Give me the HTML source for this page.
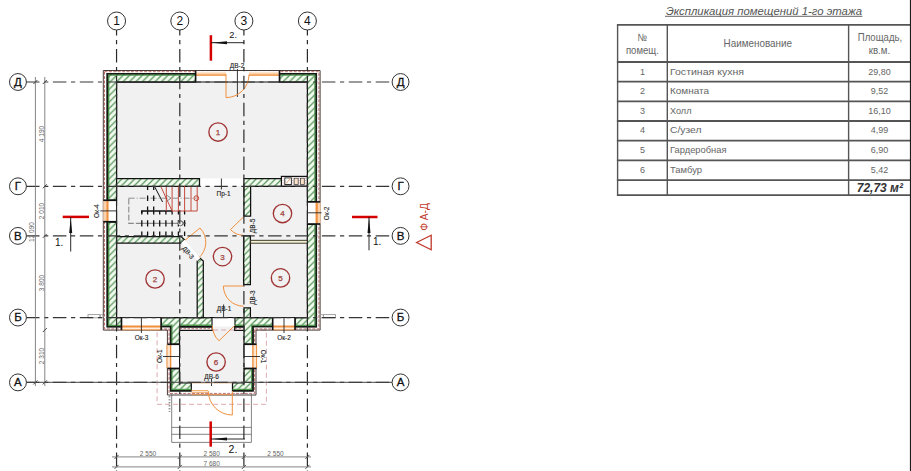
<!DOCTYPE html><html><head><meta charset="utf-8"><style>html,body{margin:0;padding:0;background:#fff;width:911px;height:471px;overflow:hidden}svg{display:block}text{font-family:"Liberation Sans",sans-serif}</style></head><body>
<svg width="911" height="471" viewBox="0 0 911 471">
<defs><pattern id="h" patternUnits="userSpaceOnUse" width="6.4" height="6.4"><rect width="6.4" height="6.4" fill="#f1fbee"/><path d="M-1.6,1.6 L1.6,-1.6 M0,6.4 L6.4,0 M4.8,8 L8,4.8" stroke="#56925a" stroke-width="1.25"/></pattern><marker id="ar" viewBox="0 0 10 4" refX="0" refY="2" markerWidth="10" markerHeight="4" orient="auto"><path d="M0,2 L10,0.4 L10,3.6Z" fill="#111"/></marker></defs>
<rect width="911" height="471" fill="#fff"/>
<rect x="116.6" y="82" width="190.8" height="235.6" fill="#f1f1f1"/>
<rect x="179.5" y="326.5" width="64.3" height="57" fill="#f1f1f1"/>
<rect x="157.1" y="330" width="109.3" height="74.3" fill="none" stroke="#d9a0a8" stroke-width="0.9" stroke-dasharray="5 3"/>
<g stroke="#777" stroke-width="0.9" fill="none"><path d="M171.7,394.6 V442.4 H251.4 V394.6 M171.7,427.4 H251.4 M171.7,434.3 H251.4"/></g>
<line x1="169.5" y1="396" x2="169.5" y2="412" stroke="#999" stroke-width="1.8" stroke-dasharray="1.5 1.5"/>
<polygon points="104.5,71.7 318.9,71.7 318.9,328.9 254.6,328.9 254.6,393.4 169,393.4 169,328.9 104.5,328.9" fill="none" stroke="#c07070" stroke-width="1" stroke-dasharray="3 1.4"/>
<polygon points="103.3,70.5 320.1,70.5 320.1,330.1 256,330.1 256,395 167.4,395 167.4,330.1 103.3,330.1" fill="none" stroke="#4a3a36" stroke-width="1"/>
<g fill="none" stroke="#9a9a9a" stroke-width="0.9"><rect x="88" y="314.6" width="12" height="3.2"/><circle cx="101.6" cy="316.2" r="1.7"/><rect x="323.5" y="314.6" width="12" height="3.2"/><circle cx="321.9" cy="316.2" r="1.7"/></g>
<rect x="199.5" y="178.5" width="44.4" height="7.6" fill="#fff"/>
<polygon points="107.3,73.7 195.6,73.7 195.6,82 116.6,82 116.6,200 107.3,200" fill="url(#h)" stroke="#111" stroke-width="1.25" stroke-linejoin="miter"/>
<polygon points="279.5,73.7 316.3,73.7 316.3,201.6 307.4,201.6 307.4,82 279.5,82" fill="url(#h)" stroke="#111" stroke-width="1.25" stroke-linejoin="miter"/>
<polygon points="107.3,222 116.6,222 116.6,317.6 121.5,317.6 121.5,326.7 107.3,326.7" fill="url(#h)" stroke="#111" stroke-width="1.25" stroke-linejoin="miter"/>
<polygon points="307.4,224.3 316.3,224.3 316.3,326.7 295,326.7 295,317.6 307.4,317.6" fill="url(#h)" stroke="#111" stroke-width="1.25" stroke-linejoin="miter"/>
<polygon points="161.1,317.6 212.3,317.6 212.3,326.5 179.5,326.5 179.5,344 170.6,344 170.6,326.5 161.1,326.5" fill="url(#h)" stroke="#111" stroke-width="1.25" stroke-linejoin="miter"/>
<polygon points="234.7,317.6 244,317.6 244,307.8 250.4,307.8 250.4,317.6 272.7,317.6 272.7,326.5 253,326.5 253,344 244,344 244,326.5 234.7,326.5" fill="url(#h)" stroke="#111" stroke-width="1.25" stroke-linejoin="miter"/>
<polygon points="170.6,368.7 179.5,368.7 179.5,382.8 191.3,382.8 191.3,390.8 170.6,390.8" fill="url(#h)" stroke="#111" stroke-width="1.25" stroke-linejoin="miter"/>
<polygon points="244,368.7 253,368.7 253,390.8 232.5,390.8 232.5,382.8 244,382.8" fill="url(#h)" stroke="#111" stroke-width="1.25" stroke-linejoin="miter"/>
<polygon points="116.6,178.6 199.5,178.6 199.5,186.3 116.6,186.3" fill="url(#h)" stroke="#111" stroke-width="1.25" stroke-linejoin="miter"/>
<polygon points="243.9,178.6 307.4,178.6 307.4,186.3 250.6,186.3 250.6,216.2 243.9,216.2" fill="url(#h)" stroke="#111" stroke-width="1.25" stroke-linejoin="miter"/>
<polygon points="243.6,235.8 250.4,235.8 250.4,284.5 243.6,284.5" fill="url(#h)" stroke="#111" stroke-width="1.25" stroke-linejoin="miter"/>
<polygon points="116.6,236.6 181,236.6 184.5,239.8 181,243 116.6,243" fill="url(#h)" stroke="#111" stroke-width="1.25" stroke-linejoin="miter"/>
<polygon points="197.2,261 200.2,258.3 203.3,261 203.3,317.6 197.2,317.6" fill="url(#h)" stroke="#111" stroke-width="1.25" stroke-linejoin="miter"/>
<rect x="179.5" y="326.5" width="32.8" height="4.2" fill="#fff"/><rect x="234.7" y="326.5" width="9.3" height="4.2" fill="#fff"/>
<g fill="none"><path d="M179.5,325.2 H212.3 M234.7,325.2 H244" stroke="#4c944c" stroke-width="1.5"/><path d="M179.5,330.3 H212.3 M234.7,330.3 H244" stroke="#111" stroke-width="1.2"/><path d="M179.5,328.6 H212.3 M234.7,328.6 H244" stroke="#d08080" stroke-width="1" stroke-dasharray="2.5 1.5"/><path d="M179.5,326.8 H212.3 M234.7,326.8 H244" stroke="#111" stroke-width="1.7"/><path d="M212.3,317.6 V330.9 M234.7,317.6 V330.9" stroke="#111" stroke-width="1.2"/></g>
<g stroke="#4f9a4f" stroke-width="1.3" fill="none"><path d="M108.7,200 V75.1 H195.6"/><path d="M279.5,75.1 H314.9 V201.6"/><path d="M108.7,222 V325.3 H121.5"/><path d="M314.9,224.3 V325.3 H295"/><path d="M161.1,325.1 H171.9 V344"/><path d="M272.7,325.1 H251.7 V344"/><path d="M171.9,368.7 V389.4 H191.3"/><path d="M251.7,368.7 V389.4 H232.5"/></g>
<g stroke="#141c14" stroke-width="1.6" fill="none"><path d="M107.3,200 V73.7 H195.6"/><path d="M279.5,73.7 H316.3 V201.6"/><path d="M107.3,222 V326.7 H121.5"/><path d="M316.3,224.3 V326.7 H295"/><path d="M161.1,326.5 H170.6 V344"/><path d="M272.7,326.5 H253 V344"/><path d="M170.6,368.7 V390.8 H191.3"/><path d="M253,368.7 V390.8 H232.5"/></g>
<rect x="250.6" y="240.3" width="56.8" height="2.9" fill="#f5f0d2" stroke="#2a2a1a" stroke-width="0.9"/>
<rect x="281.4" y="176.4" width="25.9" height="9.7" fill="#fff" stroke="#111" stroke-width="1.2"/>
<g stroke="#e2a0a0" stroke-width="0.9" stroke-dasharray="1.2 1.2"><line x1="283" y1="177.5" x2="283" y2="185.5"/><line x1="292.8" y1="177.5" x2="292.8" y2="185.5"/><line x1="299.3" y1="177.5" x2="299.3" y2="185.5"/><line x1="305.6" y1="177.5" x2="305.6" y2="185.5"/></g>
<rect x="284.8" y="177.9" width="6.6" height="6.6" fill="#fff" stroke="#333" stroke-width="1"/><line x1="286" y1="183.5" x2="290" y2="179" stroke="#f0a060" stroke-width="1"/>
<rect x="294.1" y="178.2" width="4.1" height="6.2" fill="#fbe2c8" stroke="#444" stroke-width="0.8"/><rect x="300.5" y="178.2" width="3.8" height="6.2" fill="#fbe2c8" stroke="#444" stroke-width="0.8"/>
<rect x="195.6" y="71.1" width="30.400000000000006" height="10.3" fill="#fff"/>
<rect x="195.6" y="72.4" width="30.400000000000006" height="3.4" fill="#fbd2ab"/>
<line x1="195.6" y1="75.1" x2="226" y2="75.1" stroke="#f0903c" stroke-width="1.2"/>
<rect x="249" y="71.1" width="30.5" height="10.3" fill="#fff"/>
<rect x="249" y="72.4" width="30.5" height="3.4" fill="#fbd2ab"/>
<line x1="249" y1="75.1" x2="279.5" y2="75.1" stroke="#f0903c" stroke-width="1.2"/>
<rect x="226" y="71" width="23" height="10.5" fill="#fff"/>
<rect x="121.5" y="318.20000000000005" width="39.599999999999994" height="11.3" fill="#fff"/>
<rect x="121.5" y="326" width="39.599999999999994" height="3.8" fill="#fdefe2"/>
<line x1="121.5" y1="326.5" x2="161.1" y2="326.5" stroke="#f0903c" stroke-width="1.9"/>
<line x1="121.5" y1="329.8" x2="161.1" y2="329.8" stroke="#f0903c" stroke-width="0.9"/>
<rect x="272.7" y="318.20000000000005" width="22.30000000000001" height="11.3" fill="#fff"/>
<rect x="272.7" y="326" width="22.30000000000001" height="3.8" fill="#fdefe2"/>
<line x1="272.7" y1="326.5" x2="295" y2="326.5" stroke="#f0903c" stroke-width="1.9"/>
<line x1="272.7" y1="329.8" x2="295" y2="329.8" stroke="#f0903c" stroke-width="0.9"/>
<rect x="103.8" y="200.6" width="12.3" height="20.80000000000001" fill="#fff"/>
<rect x="103.3" y="200.6" width="5.5" height="20.80000000000001" fill="#fbd2ab"/>
<line x1="107.4" y1="200.6" x2="107.4" y2="221.4" stroke="#f0903c" stroke-width="1.8"/>
<rect x="307.9" y="202.3" width="11.7" height="21.399999999999977" fill="#fff"/>
<rect x="315.1" y="202.3" width="5.5" height="21.399999999999977" fill="#fbd2ab"/>
<line x1="316.8" y1="202.3" x2="316.8" y2="223.7" stroke="#f0903c" stroke-width="1.8"/>
<rect x="167" y="344.5" width="12.3" height="23.7" fill="#fff"/>
<rect x="244.3" y="344.5" width="12.3" height="23.7" fill="#fff"/>
<rect x="167.3" y="344.5" width="3.2" height="23.7" fill="#fde6d0"/><line x1="170.6" y1="344.5" x2="170.6" y2="368.2" stroke="#f0903c" stroke-width="1.4"/><line x1="167" y1="344.5" x2="167" y2="368.2" stroke="#f0903c" stroke-width="1"/>
<rect x="253.2" y="344.5" width="3.2" height="23.7" fill="#fde6d0"/><line x1="252.9" y1="344.5" x2="252.9" y2="368.2" stroke="#f0903c" stroke-width="1.4"/><line x1="256.6" y1="344.5" x2="256.6" y2="368.2" stroke="#f0903c" stroke-width="1"/>
<g stroke="#111" stroke-width="1.6"><line x1="167.4" y1="344.3" x2="179.5" y2="344.3"/><line x1="167.4" y1="368.4" x2="179.5" y2="368.4"/><line x1="244" y1="344.3" x2="256.5" y2="344.3"/><line x1="244" y1="368.4" x2="256.5" y2="368.4"/></g>
<g stroke="#111" stroke-width="1.6"><line x1="103.3" y1="200.3" x2="116.6" y2="200.3"/><line x1="103.3" y1="221.7" x2="116.6" y2="221.7"/><line x1="307.4" y1="201.9" x2="320.1" y2="201.9"/><line x1="307.4" y1="224" x2="320.1" y2="224"/><line x1="195.6" y1="70.5" x2="195.6" y2="82"/><line x1="279.5" y1="70.5" x2="279.5" y2="82"/><line x1="121.5" y1="317.6" x2="121.5" y2="330.1"/><line x1="161.1" y1="317.6" x2="161.1" y2="330.1"/><line x1="272.7" y1="317.6" x2="272.7" y2="330.1"/><line x1="295" y1="317.6" x2="295" y2="330.1"/></g>
<g stroke="#111" stroke-width="1"><line x1="116.6" y1="200" x2="116.6" y2="222"/><line x1="307.4" y1="201" x2="307.4" y2="224.5"/><line x1="179.5" y1="344" x2="179.5" y2="368.7"/><line x1="244" y1="344" x2="244" y2="368.7"/><line x1="116.6" y1="82" x2="307.4" y2="82"/><line x1="116.6" y1="317.6" x2="307.4" y2="317.6"/></g>
<g stroke="#222" stroke-width="0.9"><line x1="100.3" y1="210.9" x2="116.6" y2="210.9"/><line x1="307.4" y1="212.8" x2="321.5" y2="212.8"/><line x1="141.4" y1="317.6" x2="141.4" y2="333"/><line x1="284" y1="317.6" x2="284" y2="333"/><line x1="163" y1="356.5" x2="179.5" y2="356.5"/><line x1="244" y1="356.5" x2="260" y2="356.5"/><line x1="237.4" y1="69" x2="237.4" y2="97"/><line x1="221.4" y1="178.5" x2="221.4" y2="189.5"/><line x1="211.5" y1="379" x2="211.5" y2="386"/><line x1="223.6" y1="304.5" x2="223.6" y2="317.6"/></g>
<line x1="212.3" y1="317.7" x2="234.7" y2="317.7" stroke="#111" stroke-width="1.2"/>
<g fill="none" stroke="#f0903c" stroke-width="1"><path d="M226,74 V97.6 A23,23 0 0 0 249,74.5"/><path d="M243.4,217 L230.5,229.6 A18,18 0 0 0 243.4,235.3"/><path d="M243.6,286 H223.4 A20.2,20.2 0 0 0 243.6,306.2"/><path d="M184,241 L200,228 A20.6,20.6 0 0 1 198.2,258.3"/><path d="M234.7,325.5 L218.9,340.8 M212.3,325.5 A22.4,22.4 0 0 0 218.9,340.8"/><path d="M232.3,391 V415 A24,24 0 0 1 208.3,391"/></g>
<g stroke="#f0903c" stroke-width="0.8"><line x1="191.3" y1="382.8" x2="232.5" y2="382.8"/><line x1="191.3" y1="390.6" x2="208" y2="390.6"/><line x1="191.3" y1="392.3" x2="208" y2="392.3"/><line x1="191.3" y1="394.6" x2="232.5" y2="394.6"/></g>
<polygon points="184.5,239.8 200.2,258.3 197.2,261 181,243" fill="#fff"/>
<rect x="212.6" y="318.2" width="21.8" height="7.8" fill="#fff"/>
<path d="M128.6,198.2 H196" stroke="#777" stroke-width="0.8" stroke-dasharray="6 2 1 2" fill="none"/>
<path d="M128.8,198.4 V223.4 H141" stroke="#888" stroke-width="1.1" stroke-dasharray="6 2" fill="none"/>
<path d="M154.4,186.2 L162.6,202" stroke="#111" stroke-width="1" fill="none"/>
<line x1="141" y1="223.3" x2="186" y2="223.3" stroke="#555" stroke-width="0.8"/>
<path d="M147.6,186V190M147.6,195.5V201M147.6,206.5V210.5M153.7,186V190M153.7,195.5V201M153.7,206.5V210.5M141.8,211V214.5M141.8,220.2V226.4M141.8,231.5V236M147.6,211V214.5M147.6,220.2V226.4M147.6,231.5V236M153.7,211V214.5M153.7,220.2V226.4M153.7,231.5V236M159.7,211V214.5M159.7,220.2V226.4M159.7,231.5V236M165.9,211V214.5M165.9,220.2V226.4M165.9,231.5V236M172.1,211V214.5M172.1,220.2V226.4M172.1,231.5V236M178.4,211V214.5M178.4,220.2V226.4M178.4,231.5V236M184.6,211V214.5M184.6,220.2V226.4M184.6,231.5V236" stroke="#111" stroke-width="1.3" fill="none"/>
<path d="M141.8,213 V211 H172" stroke="#111" stroke-width="1.6" fill="none"/>
<g fill="none" stroke="#c0392b" stroke-width="0.9"><path d="M160.6,186 L172.1,211 H197.2 M166.3,186 V211 M172.1,186 V211 M178.4,186 V211 M184.6,186 V211 M191,186 V211 M197.2,186 V211"/><circle cx="196.3" cy="198.2" r="2.4"/></g>
<path d="M171,198.2 l-4.5,-3.2 M171,198.2 l-4.5,3.2" stroke="#777" stroke-width="0.8" fill="none"/>
<circle cx="180.5" cy="223.3" r="2.4" fill="#f1f1f1" stroke="#666" stroke-width="0.8"/>
<path d="M184.6,223.3 l-4,-2.8 M184.6,223.3 l-4,2.8" stroke="#666" stroke-width="0.8" fill="none"/>
<line x1="116.55" y1="30" x2="116.55" y2="471" stroke="#2a2a2a" stroke-width="1.2" stroke-dashoffset="8" stroke-dasharray="13.5 4.6 4.2 4.6"/>
<line x1="179.8" y1="30" x2="179.8" y2="471" stroke="#2a2a2a" stroke-width="1.2" stroke-dashoffset="8" stroke-dasharray="13.5 4.6 4.2 4.6"/>
<line x1="243.9" y1="30" x2="243.9" y2="471" stroke="#2a2a2a" stroke-width="1.2" stroke-dashoffset="8" stroke-dasharray="13.5 4.6 4.2 4.6"/>
<line x1="307.4" y1="30" x2="307.4" y2="471" stroke="#2a2a2a" stroke-width="1.2" stroke-dashoffset="8" stroke-dasharray="13.5 4.6 4.2 4.6"/>
<line x1="26" y1="82.0" x2="392" y2="82.0" stroke="#363636" stroke-width="1.2" stroke-dasharray="13.5 4.6 4.2 4.6"/>
<line x1="26" y1="186.3" x2="392" y2="186.3" stroke="#363636" stroke-width="1.2" stroke-dasharray="13.5 4.6 4.2 4.6"/>
<line x1="26" y1="235.9" x2="392" y2="235.9" stroke="#363636" stroke-width="1.2" stroke-dasharray="13.5 4.6 4.2 4.6"/>
<line x1="26" y1="317.55" x2="392" y2="317.55" stroke="#363636" stroke-width="1.2" stroke-dasharray="13.5 4.6 4.2 4.6"/>
<line x1="26" y1="382.4" x2="392" y2="382.4" stroke="#6a6a6a" stroke-width="1.3"/>
<line x1="26" y1="382.4" x2="392" y2="382.4" stroke="#404040" stroke-width="1.3" stroke-dasharray="13.5 4.6 4.2 4.6"/>
<circle cx="218.05" cy="132" r="9.2" fill="none" stroke="#a03434" stroke-width="1.35"/>
<text x="218.05" y="134.9" font-size="8" fill="#a0403a" stroke="#a0403a" stroke-width="0.25" text-anchor="middle">1</text>
<circle cx="155.05" cy="279" r="9.2" fill="none" stroke="#a03434" stroke-width="1.35"/>
<text x="155.05" y="281.9" font-size="8" fill="#a0403a" stroke="#a0403a" stroke-width="0.25" text-anchor="middle">2</text>
<circle cx="222.5" cy="256.6" r="9.2" fill="none" stroke="#a03434" stroke-width="1.35"/>
<text x="222.5" y="259.5" font-size="8" fill="#a0403a" stroke="#a0403a" stroke-width="0.25" text-anchor="middle">3</text>
<circle cx="282.5" cy="213.5" r="9.2" fill="none" stroke="#a03434" stroke-width="1.35"/>
<text x="282.5" y="216.4" font-size="8" fill="#a0403a" stroke="#a0403a" stroke-width="0.25" text-anchor="middle">4</text>
<circle cx="280.5" cy="277.9" r="9.2" fill="none" stroke="#a03434" stroke-width="1.35"/>
<text x="280.5" y="280.8" font-size="8" fill="#a0403a" stroke="#a0403a" stroke-width="0.25" text-anchor="middle">5</text>
<circle cx="216.1" cy="362" r="9.2" fill="none" stroke="#a03434" stroke-width="1.35"/>
<text x="216.1" y="364.9" font-size="8" fill="#a0403a" stroke="#a0403a" stroke-width="0.25" text-anchor="middle">6</text>
<circle cx="116.55" cy="21" r="9" fill="#fff" stroke="#333" stroke-width="1"/>
<text x="116.55" y="25.2" font-size="12" fill="#111" text-anchor="middle">1</text>
<circle cx="179.8" cy="21" r="9" fill="#fff" stroke="#333" stroke-width="1"/>
<text x="179.8" y="25.2" font-size="12" fill="#111" text-anchor="middle">2</text>
<circle cx="243.9" cy="21" r="9" fill="#fff" stroke="#333" stroke-width="1"/>
<text x="243.9" y="25.2" font-size="12" fill="#111" text-anchor="middle">3</text>
<circle cx="307.4" cy="21" r="9" fill="#fff" stroke="#333" stroke-width="1"/>
<text x="307.4" y="25.2" font-size="12" fill="#111" text-anchor="middle">4</text>
<circle cx="17.95" cy="82.0" r="8.45" fill="#fff" stroke="#333" stroke-width="1"/>
<text x="17.95" y="85.6" font-size="11.5" fill="#111" stroke="#111" stroke-width="0.3" text-anchor="middle">Д</text>
<circle cx="400.55" cy="82.0" r="8.45" fill="#fff" stroke="#333" stroke-width="1"/>
<text x="400.55" y="85.6" font-size="11.5" fill="#111" stroke="#111" stroke-width="0.3" text-anchor="middle">Д</text>
<circle cx="17.95" cy="186.3" r="8.45" fill="#fff" stroke="#333" stroke-width="1"/>
<text x="17.95" y="189.9" font-size="11.5" fill="#111" stroke="#111" stroke-width="0.3" text-anchor="middle">Г</text>
<circle cx="400.55" cy="186.3" r="8.45" fill="#fff" stroke="#333" stroke-width="1"/>
<text x="400.55" y="189.9" font-size="11.5" fill="#111" stroke="#111" stroke-width="0.3" text-anchor="middle">Г</text>
<circle cx="17.95" cy="235.9" r="8.45" fill="#fff" stroke="#333" stroke-width="1"/>
<text x="17.95" y="239.5" font-size="11.5" fill="#111" stroke="#111" stroke-width="0.3" text-anchor="middle">В</text>
<circle cx="400.55" cy="235.9" r="8.45" fill="#fff" stroke="#333" stroke-width="1"/>
<text x="400.55" y="239.5" font-size="11.5" fill="#111" stroke="#111" stroke-width="0.3" text-anchor="middle">В</text>
<circle cx="17.95" cy="317.55" r="8.45" fill="#fff" stroke="#333" stroke-width="1"/>
<text x="17.95" y="321.2" font-size="11.5" fill="#111" stroke="#111" stroke-width="0.3" text-anchor="middle">Б</text>
<circle cx="400.55" cy="317.55" r="8.45" fill="#fff" stroke="#333" stroke-width="1"/>
<text x="400.55" y="321.2" font-size="11.5" fill="#111" stroke="#111" stroke-width="0.3" text-anchor="middle">Б</text>
<circle cx="17.95" cy="382.4" r="8.45" fill="#fff" stroke="#333" stroke-width="1"/>
<text x="17.95" y="386.0" font-size="11.5" fill="#111" stroke="#111" stroke-width="0.3" text-anchor="middle">А</text>
<circle cx="400.55" cy="382.4" r="8.45" fill="#fff" stroke="#333" stroke-width="1"/>
<text x="400.55" y="386.0" font-size="11.5" fill="#111" stroke="#111" stroke-width="0.3" text-anchor="middle">А</text>
<g stroke="#777" stroke-width="0.9"><line x1="35.4" y1="77" x2="35.4" y2="386"/><line x1="44.8" y1="77" x2="44.8" y2="386"/><line x1="112" y1="456.9" x2="311" y2="456.9"/><line x1="112" y1="466.9" x2="311" y2="466.9"/></g>
<g stroke="#444" stroke-width="1"><line x1="33.4" y1="84" x2="37.4" y2="80"/><line x1="33.4" y1="384.4" x2="37.4" y2="380.4"/><line x1="42.8" y1="84" x2="46.8" y2="80"/><line x1="42.8" y1="188.3" x2="46.8" y2="184.3"/><line x1="42.8" y1="237.9" x2="46.8" y2="233.9"/><line x1="42.8" y1="332.1" x2="46.8" y2="328.1"/><line x1="42.8" y1="384.4" x2="46.8" y2="380.4"/><line x1="114.55" y1="458.9" x2="118.55" y2="454.9"/><line x1="114.55" y1="468.9" x2="118.55" y2="464.9"/><line x1="177.8" y1="458.9" x2="181.8" y2="454.9"/><line x1="177.8" y1="468.9" x2="181.8" y2="464.9"/><line x1="241.9" y1="458.9" x2="245.9" y2="454.9"/><line x1="241.9" y1="468.9" x2="245.9" y2="464.9"/><line x1="305.4" y1="458.9" x2="309.4" y2="454.9"/><line x1="305.4" y1="468.9" x2="309.4" y2="464.9"/></g>
<text x="43.5" y="134" font-size="6.5" fill="#666" text-anchor="middle" transform="rotate(-90 43.5 134)">4 190</text>
<text x="43.5" y="211" font-size="6.5" fill="#666" text-anchor="middle" transform="rotate(-90 43.5 211)">2 010</text>
<text x="34" y="232" font-size="6.5" fill="#666" text-anchor="middle" transform="rotate(-90 34 232)">12 090</text>
<text x="43.5" y="283" font-size="6.5" fill="#666" text-anchor="middle" transform="rotate(-90 43.5 283)">3 800</text>
<text x="43.5" y="356" font-size="6.5" fill="#666" text-anchor="middle" transform="rotate(-90 43.5 356)">2 310</text>
<text x="148" y="455.7" font-size="6.5" fill="#666" text-anchor="middle">2 550</text>
<text x="211.7" y="455.7" font-size="6.5" fill="#666" text-anchor="middle">2 580</text>
<text x="275.5" y="455.7" font-size="6.5" fill="#666" text-anchor="middle">2 550</text>
<text x="211.7" y="466" font-size="6.5" fill="#666" text-anchor="middle">7 680</text>
<g stroke="#d40000" stroke-width="2.5"><line x1="210.9" y1="35.2" x2="210.9" y2="60.7"/><line x1="210.7" y1="421.4" x2="210.7" y2="446.7"/><line x1="62.7" y1="216.9" x2="89" y2="216.9"/><line x1="352" y1="217" x2="377.5" y2="217"/></g>
<g stroke="#111" stroke-width="0.9"><line x1="211" y1="42.7" x2="244.2" y2="42.7"/><line x1="211" y1="439" x2="245" y2="439"/><line x1="70.7" y1="217" x2="70.7" y2="251.5"/><line x1="369" y1="217" x2="369" y2="250.3"/></g>
<g fill="#111"><path d="M212,42.7 L227,41.2 L227,44.2Z"/><path d="M212,439 L227,437.5 L227,440.5Z"/><path d="M70.7,218 L69.2,233 L72.2,233Z"/><path d="M369,218 L367.5,233 L370.5,233Z"/></g>
<text x="229.3" y="37.7" font-size="9.3" fill="#111">2.</text>
<text x="228.6" y="452.6" font-size="10.5" fill="#111">2.</text>
<text x="55" y="246" font-size="10" fill="#111">1.</text>
<text x="373" y="245" font-size="10" fill="#111">1.</text>
<text x="427.6" y="230.8" font-size="10.2" fill="#c0392b" transform="rotate(-90 427.6 230.8)">Ф А-Д</text>
<polygon points="416.6,242.5 431.2,235.2 431.2,249.8" fill="none" stroke="#c0392b" stroke-width="1.3"/>
<text x="237" y="68" font-size="6.5" fill="#222" stroke="#222" stroke-width="0.12" text-anchor="middle">ДВ-2</text>
<text x="223.5" y="196" font-size="6.5" fill="#222" stroke="#222" stroke-width="0.12" text-anchor="middle">Пр-1</text>
<text x="98.6" y="211.1" font-size="6.5" fill="#222" stroke="#222" stroke-width="0.12" text-anchor="middle" transform="rotate(-90 98.6 211.1)">Ок-4</text>
<text x="329" y="213.4" font-size="6.5" fill="#222" stroke="#222" stroke-width="0.12" text-anchor="middle" transform="rotate(-90 329 213.4)">Ок-2</text>
<text x="254.6" y="226" font-size="6.5" fill="#222" stroke="#222" stroke-width="0.12" text-anchor="middle" transform="rotate(-90 254.6 226)">ДВ-5</text>
<text x="255.2" y="297.5" font-size="6.5" fill="#222" stroke="#222" stroke-width="0.12" text-anchor="middle" transform="rotate(-90 255.2 297.5)">ДВ-3</text>
<text x="186.5" y="254" font-size="6.5" fill="#222" stroke="#222" stroke-width="0.12" text-anchor="middle" transform="rotate(50 186.5 254)">ДВ-3</text>
<text x="224" y="310.9" font-size="6.5" fill="#222" stroke="#222" stroke-width="0.12" text-anchor="middle">ДВ-1</text>
<text x="141.5" y="339.5" font-size="6.5" fill="#222" stroke="#222" stroke-width="0.12" text-anchor="middle">Ок-3</text>
<text x="284" y="339.5" font-size="6.5" fill="#222" stroke="#222" stroke-width="0.12" text-anchor="middle">Ок-2</text>
<text x="162" y="356.1" font-size="6.5" fill="#222" stroke="#222" stroke-width="0.12" text-anchor="middle" transform="rotate(-90 162 356.1)">Ок-1</text>
<text x="261.2" y="356.6" font-size="6.5" fill="#222" stroke="#222" stroke-width="0.12" text-anchor="middle" transform="rotate(90 261.2 356.6)">Ок-1</text>
<text x="211.5" y="379" font-size="6.5" fill="#222" stroke="#222" stroke-width="0.12" text-anchor="middle">ДВ-6</text>
<g stroke="#555">
<line x1="616.9" y1="24.9" x2="910.9000000000001" y2="24.9" stroke-width="1.8"/>
<line x1="616.9" y1="62" x2="910.9000000000001" y2="62" stroke-width="1.8"/>
<line x1="616.9" y1="81.7" x2="910.9000000000001" y2="81.7" stroke-width="1.8"/>
<line x1="616.9" y1="101.3" x2="910.9000000000001" y2="101.3" stroke-width="1.8"/>
<line x1="616.9" y1="121" x2="910.9000000000001" y2="121" stroke-width="1.8"/>
<line x1="616.9" y1="140.6" x2="910.9000000000001" y2="140.6" stroke-width="1.8"/>
<line x1="616.9" y1="160.4" x2="910.9000000000001" y2="160.4" stroke-width="1.8"/>
<line x1="616.9" y1="180.2" x2="910.9000000000001" y2="180.2" stroke-width="1.8"/>
<line x1="616.9" y1="195.2" x2="910.9000000000001" y2="195.2" stroke-width="1.8"/>
<line x1="617.6" y1="24.9" x2="617.6" y2="195.2" stroke-width="1.4"/>
<line x1="667.3" y1="24.9" x2="667.3" y2="195.2" stroke-width="1.4"/>
<line x1="848.6" y1="24.9" x2="848.6" y2="195.2" stroke-width="1.4"/>
<line x1="910.5" y1="0" x2="910.5" y2="471" stroke-width="1.2" stroke="#1e1e1e"/>
</g>
<text x="666" y="14.8" font-size="11.3" fill="#555" font-style="italic" textLength="196" lengthAdjust="spacingAndGlyphs">Экспликация помещений 1-го этажа</text>
<line x1="665" y1="16.3" x2="862.4" y2="16.3" stroke="#555" stroke-width="0.9"/>
<text x="642.3" y="40.9" font-size="10.5" fill="#666" text-anchor="middle" textLength="9.5" lengthAdjust="spacingAndGlyphs">№</text>
<text x="642.4" y="54" font-size="10.3" fill="#666" text-anchor="middle" textLength="33" lengthAdjust="spacingAndGlyphs">помещ.</text>
<text x="757.8" y="47" font-size="10.5" fill="#666" text-anchor="middle" textLength="68.5" lengthAdjust="spacingAndGlyphs">Наименование</text>
<text x="880" y="40.7" font-size="10.5" fill="#666" text-anchor="middle" textLength="44.5" lengthAdjust="spacingAndGlyphs">Площадь,</text>
<text x="879.4" y="53.7" font-size="10.3" fill="#666" text-anchor="middle" textLength="21.5" lengthAdjust="spacingAndGlyphs">кв.м.</text>
<text x="642.6" y="74.9" font-size="9" fill="#666" text-anchor="middle">1</text>
<text x="670" y="74.9" font-size="8.6" fill="#666" textLength="74" lengthAdjust="spacingAndGlyphs">Гостиная кухня</text>
<text x="879.5" y="74.9" font-size="9" fill="#666" text-anchor="middle">29,80</text>
<text x="642.6" y="94.0" font-size="9" fill="#666" text-anchor="middle">2</text>
<text x="670" y="94.0" font-size="9.6" fill="#666" textLength="39" lengthAdjust="spacingAndGlyphs">Комната</text>
<text x="879.5" y="94.0" font-size="9" fill="#666" text-anchor="middle">9,52</text>
<text x="642.6" y="113.7" font-size="9" fill="#666" text-anchor="middle">3</text>
<text x="670" y="113.7" font-size="9.6" fill="#666" textLength="21.5" lengthAdjust="spacingAndGlyphs">Холл</text>
<text x="879.5" y="113.7" font-size="9" fill="#666" text-anchor="middle">16,10</text>
<text x="642.6" y="133.3" font-size="9" fill="#666" text-anchor="middle">4</text>
<text x="670" y="133.3" font-size="9.6" fill="#666" textLength="31.5" lengthAdjust="spacingAndGlyphs">С/узел</text>
<text x="879.5" y="133.3" font-size="9" fill="#666" text-anchor="middle">4,99</text>
<text x="642.6" y="153.0" font-size="9" fill="#666" text-anchor="middle">5</text>
<text x="670" y="153.0" font-size="9.6" fill="#666" textLength="56.5" lengthAdjust="spacingAndGlyphs">Гардеробная</text>
<text x="879.5" y="153.0" font-size="9" fill="#666" text-anchor="middle">6,90</text>
<text x="642.6" y="172.8" font-size="9" fill="#666" text-anchor="middle">6</text>
<text x="670" y="172.8" font-size="9.6" fill="#666" textLength="32" lengthAdjust="spacingAndGlyphs">Тамбур</text>
<text x="879.5" y="172.8" font-size="9" fill="#666" text-anchor="middle">5,42</text>
<text x="903" y="192" font-size="12" fill="#333" font-weight="bold" font-style="italic" text-anchor="end">72,73 м²</text>
</svg></body></html>
